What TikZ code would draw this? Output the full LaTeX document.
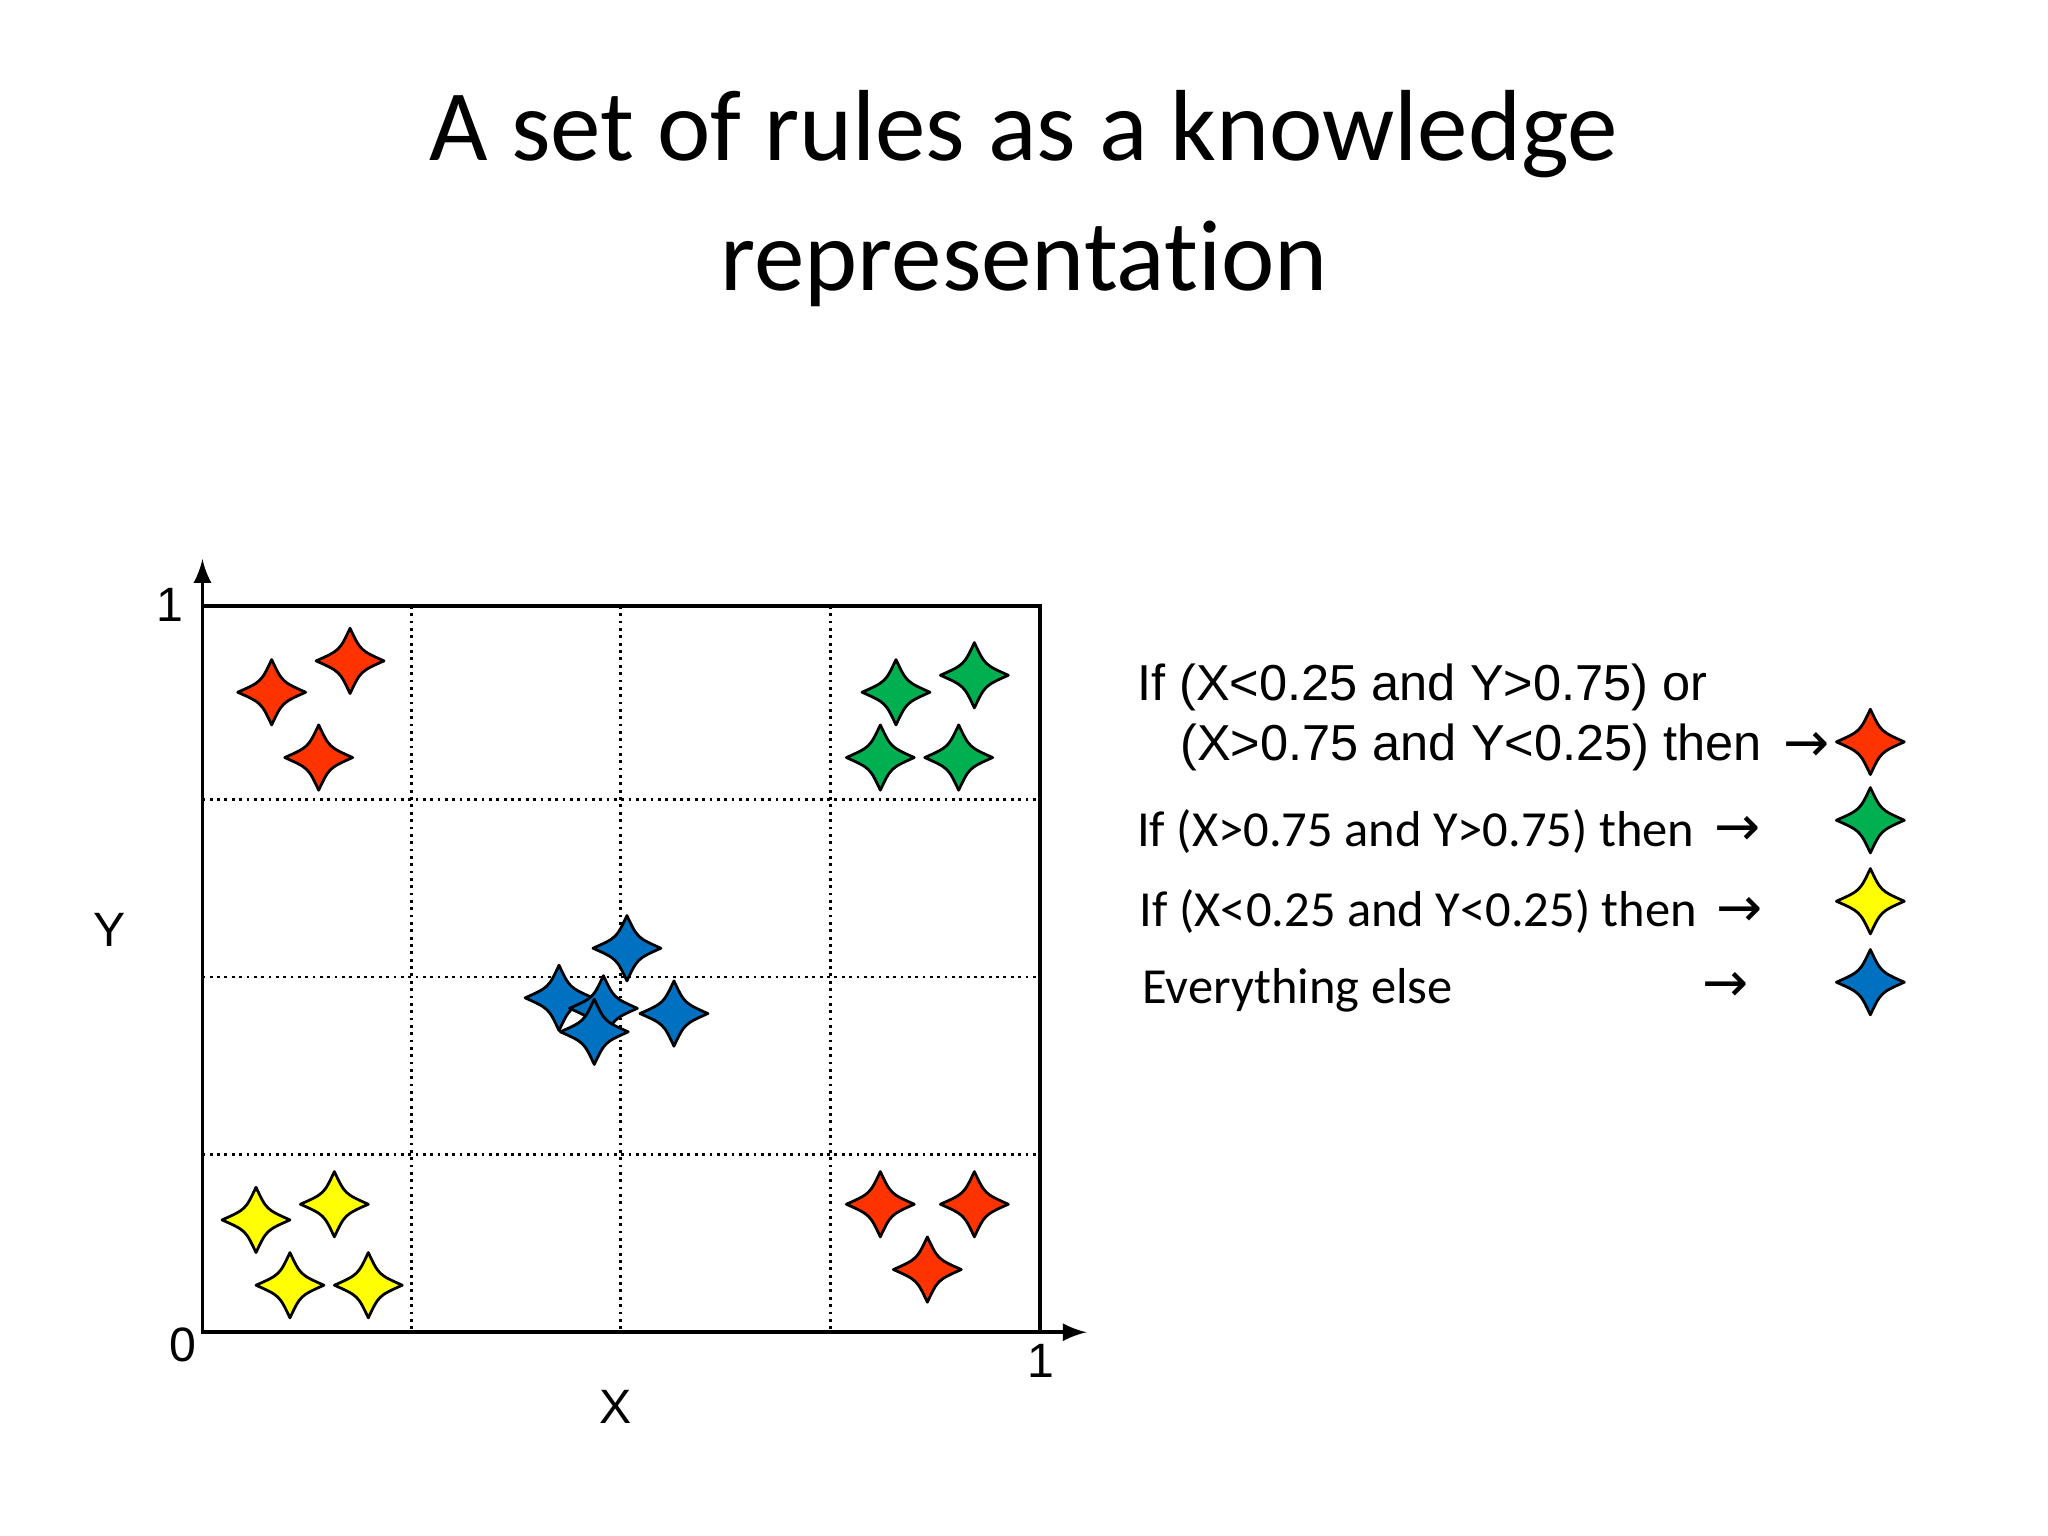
\documentclass[tikz,border=0pt]{standalone}
\usepackage{fontspec}
\setmainfont[Ligatures=NoCommon]{Carlito}
\newfontfamily\arial{Liberation Sans}
\newfontfamily\symb{DejaVu Sans}
\usetikzlibrary{positioning}
\definecolor{sred}{RGB}{255,51,0}
\definecolor{sgreen}{RGB}{0,176,80}
\definecolor{sblue}{RGB}{0,112,192}
\definecolor{syellow}{RGB}{255,255,0}
\tikzset{
    spark/.style = {draw = black, line width = 0.6pt, line join = round},
    grid line/.style = {densely dotted, line width = 0.6pt},
    rule/.style = {anchor = west, inner sep = 0pt, font = \fontsize{11}{13}\selectfont},
    rule arrow/.style = {inner sep = 0pt, font = \symb\fontsize{12}{13}\selectfont},
    axis label/.style = {font = \arial\fontsize{10.5}{12}\selectfont}
}
\newcommand\spark[3]{%
    \draw[spark, fill = #3, shift = {(#1,#2)}] (0,-25) .. controls (8,-8) .. (26,0)
        .. controls (8,8) .. (0,25) .. controls (-8,8) .. (-26,0) .. controls (-8,-8) .. cycle;}
\begin{document}
\begin{tikzpicture}[x = 0.01cm, y = -0.01cm]
    \useasboundingbox[fill = white] (0,0) rectangle (1568,1176);
    % title
    \node[align = center, font = \fontsize{22}{28.5}\selectfont] (title) at (784,152)
        {A set of rules as a knowledge\\representation};
    % plot area
    \foreach \x in {315, 475, 636} {
        \draw[grid line] (\x,464) -- (\x,1020);
    }
    \foreach \y in {612, 748, 884} {
        \draw[grid line] (155,\y) -- (796,\y);
    }
    \draw[line width = 0.8pt] (155,464) rectangle (796,1020);
    \coordinate (origin) at (155,1020);
    \coordinate (ytip) at (155,428);
    \coordinate (xtip) at (832,1020);
    \draw[-latex, line width = 0.8pt] (origin) -- (ytip);
    \draw[-latex, line width = 0.8pt] (origin) -- (xtip);
    \node[axis label] (yone) at (130,463) {1};
    \node[axis label] (zero) at (140,1030) {0};
    \node[axis label] (xone) at (797,1042) {1};
    \node[axis label] (ylab) at (84,712) {Y};
    \node[axis label] (xlab) at (471,1077) {X};
    % points
    \foreach \x/\y in {208/530, 268/506, 244/580, 674/922, 746/922, 710/972} {
        \spark{\x}{\y}{sred}
    }
    \foreach \x/\y in {686/530, 746/517, 674/580, 734/580} {
        \spark{\x}{\y}{sgreen}
    }
    \foreach \x/\y in {196/934, 256/922, 222/984, 282/984} {
        \spark{\x}{\y}{syellow}
    }
    \foreach \x/\y in {480/726, 428/764, 462/772, 516/776, 455/790} {
        \spark{\x}{\y}{sblue}
    }
    % rules
    \node[rule, font = \arial\fontsize{11}{13}\selectfont] (ruleA) at (870,526) {If (X<0.25 and Y>0.75) or};
    \node[rule, font = \arial\fontsize{11}{13}\selectfont] (ruleB) at (903,572) {(X>0.75 and Y<0.25) then};
    \node[rule] (ruleC) at (870,637) {If (X>0.75 and Y>0.75) then};
    \node[rule] (ruleD) at (872,698) {If (X<0.25 and Y<0.25) then};
    \node[rule] (ruleE) at (874,758) {Everything else};
    \node[rule arrow] (arrowB) at (1383,572) {→};
    \node[rule arrow] (arrowC) at (1330,636) {→};
    \node[rule arrow] (arrowD) at (1332,698) {→};
    \node[rule arrow] (arrowE) at (1321,756) {→};
    \spark{1432}{568}{sred}
    \spark{1432}{628}{sgreen}
    \spark{1432}{690}{syellow}
    \spark{1432}{752}{sblue}
\end{tikzpicture}
\end{document}
